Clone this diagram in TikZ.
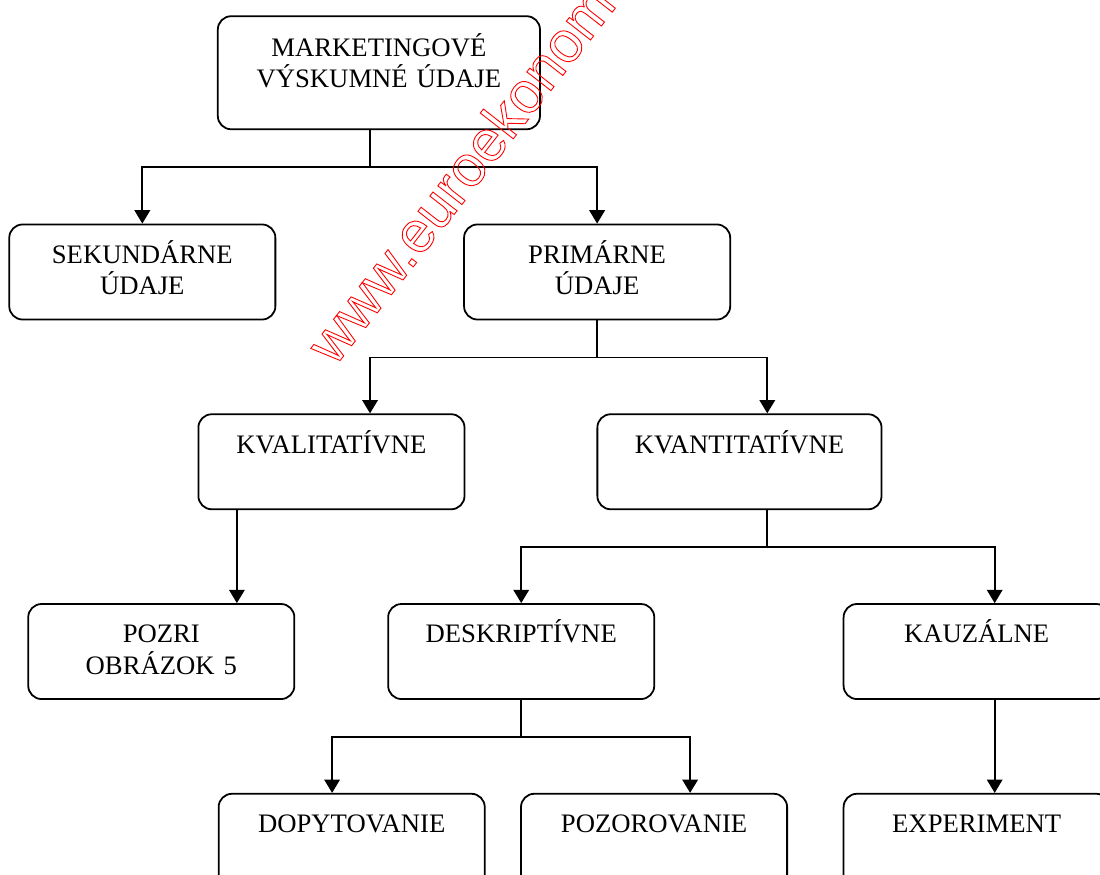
\documentclass[tikz,border=0pt]{standalone}
\usepackage{fontspec}
\setmainfont{Liberation Serif}
\newfontfamily\wmfont{Liberation Sans}
\usepackage{xcolor}
\usepackage{tikz}
\usetikzlibrary{arrows.meta}
\newcommand{\outlinetext}[1]{\special{pdf:literal direct 1 Tr}#1\special{pdf:literal direct 0 Tr}}
\tikzstyle{block} = [rectangle, rounded corners=6pt, text width=4.207cm, inner sep=0pt, text height=17.5pt, text depth=25.25pt, text centered, draw=black, line width=0.8pt, font=\fontsize{12}{14}\selectfont]
\tikzstyle{topblock} = [block, text width=5.093cm, text height=17.9pt, text depth=32.95pt]
\tikzstyle{wideblock} = [block, text width=4.492cm]
\tikzstyle{arrow} = [line width=0.8pt, -{Triangle[length=6pt,width=7pt]}]
\tikzstyle{watermark} = [inner sep=0pt, anchor=base west, rotate=52, text=red, line width=0.4pt, font=\wmfont\fontsize{26}{26}\selectfont]

\begin{document}
\begin{tikzpicture}[node distance=3cm]
    \useasboundingbox (-5.99,1.15) rectangle (11.40,-12.68);
    % Nodes
    \node (data) [topblock] {MARKETINGOVÉ\\VÝSKUMNÉ ÚDAJE};
    \node (sek) [block, below of=data, xshift=-3.74cm, yshift=-0.15cm] {SEKUNDÁRNE\\ÚDAJE};
    \node (prim) [block, below of=data, xshift=3.45cm, yshift=-0.15cm] {PRIMÁRNE\\ÚDAJE};
    \node (kval) [block, below of=prim, xshift=-4.2cm] {KVALITATÍVNE};
    \node (kvant) [wideblock, below of=prim, xshift=2.25cm] {KVANTITATÍVNE};
    \node (pozri) [block, below of=kval, xshift=-2.69cm] {POZRI\\OBRÁZOK 5};
    \node (desk) [block, below of=kvant, xshift=-3.45cm] {DESKRIPTÍVNE};
    \node (kauz) [block, below of=kvant, xshift=3.75cm] {KAUZÁLNE};
    \node (dopyt) [block, below of=desk, xshift=-2.68cm] {DOPYTOVANIE};
    \node (pozor) [block, below of=desk, xshift=2.1cm] {POZOROVANIE};
    \node (exp) [block, below of=kauz] {EXPERIMENT};

    % Arrows
    \draw [arrow] ([xshift=-0.14cm]data.south) -- ++(0,-0.585) -| (sek.north);
    \draw [arrow] ([xshift=-0.14cm]data.south) -- ++(0,-0.585) -| (prim.north);
    \draw [arrow] (prim.south) -- ++(0,-0.585) -| ([xshift=0.61cm]kval.north);
    \draw [arrow] (prim.south) -- ++(0,-0.585) -| ([xshift=0.44cm]kvant.north);
    \draw [arrow] ([xshift=-1.495cm]kval.south) -- ([xshift=-1.495cm]kval.south |- pozri.north);
    \draw [arrow] ([xshift=0.44cm]kvant.south) -- ++(0,-0.585) -| (desk.north);
    \draw [arrow] ([xshift=0.44cm]kvant.south) -- ++(0,-0.585) -| ([xshift=0.285cm]kauz.north);
    \draw [arrow] (desk.south) -- ++(0,-0.585) -| ([xshift=-0.31cm]dopyt.north);
    \draw [arrow] (desk.south) -- ++(0,-0.585) -| ([xshift=0.57cm]pozor.north);
    \draw [arrow] ([xshift=0.285cm]kauz.south) -- ([xshift=0.285cm]exp.north);

    % Watermark
    \node (web) [watermark] at (-0.70,-4.66) {\outlinetext{www.euroekonom}};
\end{tikzpicture}
\end{document}
